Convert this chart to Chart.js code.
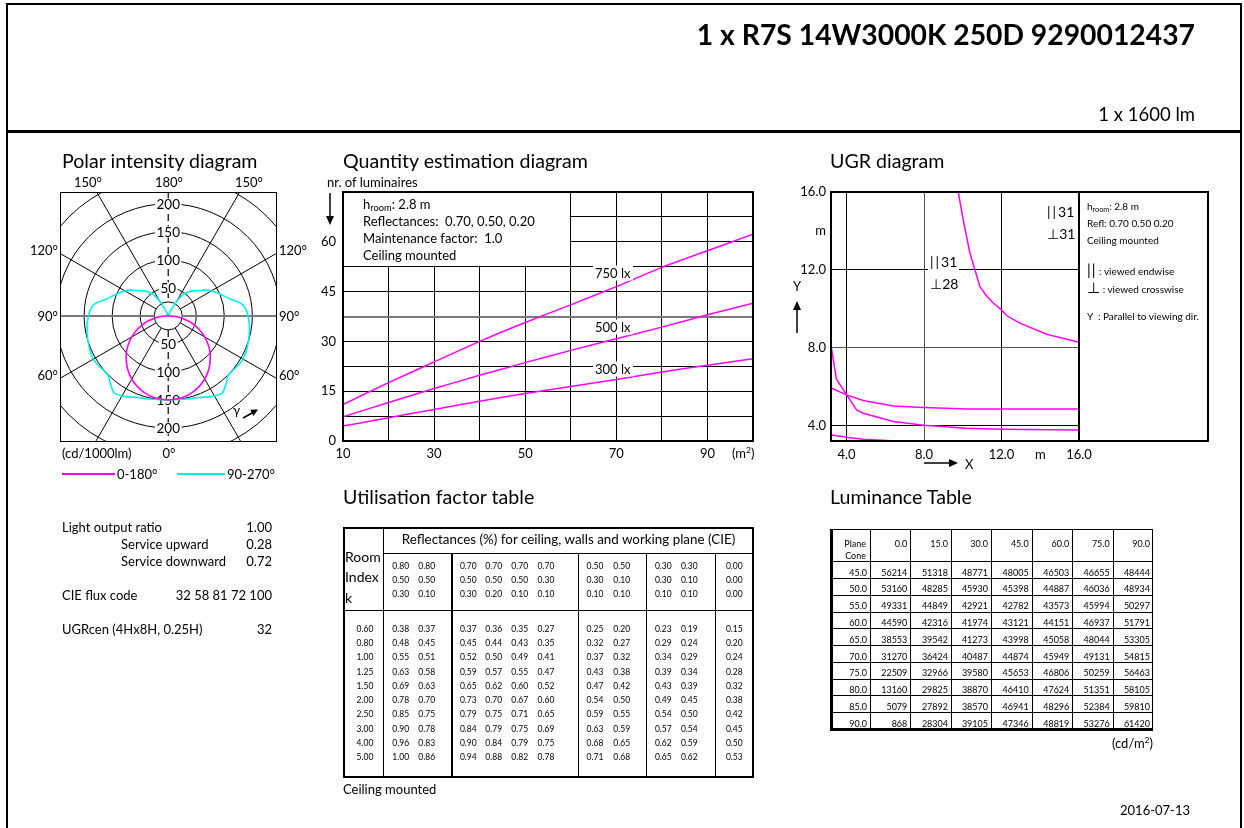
<!DOCTYPE html>
<html><head><meta charset="utf-8">
<script src="https://cdn.jsdelivr.net/npm/chart.js@4.4.1/dist/chart.umd.min.js"></script>
<style>
html,body{margin:0;padding:0}
body{width:1244px;height:828px;position:relative;overflow:hidden;background:#fff;font-family:Lato,"Open Sans",sans-serif;color:#000}
.t{position:absolute;white-space:nowrap;line-height:1;font-size:13px}
.ln{position:absolute;background:#000}
canvas{position:absolute}
sub{font-size:0.72em;vertical-align:-0.3em;line-height:0}
sup{font-size:0.65em;vertical-align:0.5em;line-height:0}
</style></head><body>
<div style="position:absolute;left:6px;top:3px;width:1236px;height:900px;border:2.5px solid #000;box-sizing:border-box"></div>
<div class="ln" style="left:6px;top:130px;width:1236px;height:2.5px"></div>
<canvas id="polar" width="217" height="250" style="left:60px;top:192px"></canvas>
<canvas id="qty" width="470" height="300" style="left:300px;top:170px"></canvas>
<canvas id="ugr" width="440" height="300" style="left:780px;top:170px"></canvas>
<div style="position:absolute;left:1078px;top:191px;width:131px;height:251px;border:2px solid #000;box-sizing:border-box"></div>
<div id="util" style="position:absolute;left:343px;top:527px;width:411px;height:251px;border:2.5px solid #000;box-sizing:border-box"></div>
<div id="lum" style="position:absolute;left:830px;top:529px;width:323px;height:202px;border:1.5px solid #000;border-left-width:3px;border-bottom-width:3px;box-sizing:border-box"></div>
<div class="ln" style="left:62px;top:473px;width:53px;height:2px;background:#ff00ff"></div>
<div class="ln" style="left:177px;top:473px;width:48px;height:2px;background:#00f0f0"></div>
<svg width="1244" height="828" style="position:absolute;left:0;top:0;pointer-events:none">
  <g stroke="#000" stroke-width="1.5" fill="#000">
    <line x1="330" y1="193" x2="330" y2="218"/><polygon points="326,216 334,216 330,225" stroke="none"/>
    <line x1="797" y1="333" x2="797" y2="308"/><polygon points="793,310 801,310 797,301" stroke="none"/>
    <line x1="924" y1="463" x2="951" y2="463"/><polygon points="949,459 949,467 958,463" stroke="none"/>
    <line x1="243" y1="418" x2="253" y2="412.5"/><polygon points="258,409.5 250.2,409.7 253.5,415.9" stroke="none"/>
  </g>
</svg>
<script>
// ---------------- DATA ----------------
const polarAngles = [0,5,10,15,20,25,30,35,40,45,50,55,60,65,70,75,80,85,90,95,100,105,110,115,120,125,130,135,140,145,150,155,160,165,170,175,180];
const intensityC0_180 = [150,149,148,145,141,136,130,123,115,106,97,86,75,63,51,39,26,13,2,0,0,0,0,0,0,0,0,0,0,0,0,0,0,0,0,0,0];
const intensityC90_270 = [150,150,151,153,155,160,165,168,160,151,151,153,154,153,151,149,147,145,142,139,131,115,105,97,89,80,70,63,56,47,30,8,3,1,0,0,0];
const polarRings = [25,50,100,150,200,250];
const polarRingLabels = [50,100,150,200];
const polarSpokes = [30,60,120,150];

const areaM2 = [10,20,30,40,50,60,70,80,90,100];
const luminaires750 = [11.0,17.6,23.8,30.0,35.7,41.0,46.5,52.3,57.3,62.3];
const luminaires500 = [7.3,11.6,15.8,19.8,23.6,27.3,30.8,34.3,38.0,41.5];
const luminaires300 = [4.5,7.0,9.5,12.0,14.3,16.4,18.5,20.8,22.8,24.8];
const quantityXTicks = [10,30,50,70,90];
const quantityYTicks = [0,15,30,45,60];

const ugrTicks = [4,8,12,14,16];
const ugrCurveAX = [9.77,9.99,10.37,10.63,10.88,11.18,11.57,12.0,12.26,12.95,14.33,16.0];
const ugrCurveAY = [16.0,14.75,12.86,12.0,11.15,10.72,10.29,9.94,9.65,9.26,8.69,8.28];
const ugrCurveBX = [3.23,3.48,4.52,4.86,6.41,8.0,10.2,12.0,16.0];
const ugrCurveBY = [7.94,6.38,4.80,4.63,4.20,4.01,3.86,3.81,3.77];
const ugrCurveCX = [3.23,4.0,4.86,6.41,8.0,10.2,16.0];
const ugrCurveCY = [5.91,5.57,5.28,5.00,4.92,4.85,4.85];
const ugrCurveDX = [3.23,4.0,4.86,6.07,7.1];
const ugrCurveDY = [3.51,3.39,3.29,3.22,3.15];

const utilRoomIndex = ['0.60','0.80','1.00','1.25','1.50','2.00','2.50','3.00','4.00','5.00'];
const utilCeiling = ['0.80','0.80','0.70','0.70','0.70','0.70','0.50','0.50','0.30','0.30','0.00'];
const utilWalls   = ['0.50','0.50','0.50','0.50','0.50','0.30','0.30','0.10','0.30','0.10','0.00'];
const utilPlane   = ['0.30','0.10','0.30','0.20','0.10','0.10','0.10','0.10','0.10','0.10','0.00'];
const utilValues = [
 ['0.38','0.37','0.37','0.36','0.35','0.27','0.25','0.20','0.23','0.19','0.15'],
 ['0.48','0.45','0.45','0.44','0.43','0.35','0.32','0.27','0.29','0.24','0.20'],
 ['0.55','0.51','0.52','0.50','0.49','0.41','0.37','0.32','0.34','0.29','0.24'],
 ['0.63','0.58','0.59','0.57','0.55','0.47','0.43','0.38','0.39','0.34','0.28'],
 ['0.69','0.63','0.65','0.62','0.60','0.52','0.47','0.42','0.43','0.39','0.32'],
 ['0.78','0.70','0.73','0.70','0.67','0.60','0.54','0.50','0.49','0.45','0.38'],
 ['0.85','0.75','0.79','0.75','0.71','0.65','0.59','0.55','0.54','0.50','0.42'],
 ['0.90','0.78','0.84','0.79','0.75','0.69','0.63','0.59','0.57','0.54','0.45'],
 ['0.96','0.83','0.90','0.84','0.79','0.75','0.68','0.65','0.62','0.59','0.50'],
 ['1.00','0.86','0.94','0.88','0.82','0.78','0.71','0.68','0.65','0.62','0.53']
];

const lumPlanes = ['0.0','15.0','30.0','45.0','60.0','75.0','90.0'];
const lumCones = ['45.0','50.0','55.0','60.0','65.0','70.0','75.0','80.0','85.0','90.0'];
const lumValues = [
 [56214,51318,48771,48005,46503,46655,48444],
 [53160,48285,45930,45398,44887,46036,48934],
 [49331,44849,42921,42782,43573,45994,50297],
 [44590,42316,41974,43121,44151,46937,51791],
 [38553,39542,41273,43998,45058,48044,53305],
 [31270,36424,40487,44874,45949,49131,54815],
 [22509,32966,39580,45653,46806,50259,56463],
 [13160,29825,38870,46410,47624,51351,58105],
 [5079,27892,38570,46941,48296,52384,59810],
 [868,28304,39105,47346,48819,53276,61420]
];

// ---------------- TEXT HELPERS ----------------
function label(txt, x, y, opt){
  opt = opt || {};
  const d = document.createElement('div');
  d.className = 't';
  d.innerHTML = txt;
  const al = opt.align || 'left';
  const tx = al === 'center' ? '-50%' : (al === 'right' ? '-100%' : '0');
  d.style.left = x + 'px';
  d.style.top = y + 'px';
  d.style.transform = 'translate(' + tx + ',-50%)';
  if (opt.size) d.style.fontSize = opt.size + 'px';
  if (opt.bold) d.style.fontWeight = 'bold';
  if (opt.bg) { d.style.background = '#fff'; d.style.padding = '1px 2px'; }
  if (opt.family) d.style.fontFamily = opt.family;
  document.body.appendChild(d);
  return d;
}
function hline(x, y, w, h){ const d=document.createElement('div'); d.className='ln'; d.style.left=x+'px'; d.style.top=y+'px'; d.style.width=w+'px'; d.style.height=(h||1)+'px'; document.body.appendChild(d); }
function vline(x, y, h, w){ const d=document.createElement('div'); d.className='ln'; d.style.left=x+'px'; d.style.top=y+'px'; d.style.height=h+'px'; d.style.width=(w||1)+'px'; document.body.appendChild(d); }

// header
label('1 x R7S 14W3000K 250D 9290012437', 1195, 34, {align:'right', size:28.3, bold:true});
label('1 x 1600 lm', 1195, 114, {align:'right', size:18.5});
label('2016-07-13', 1190, 810, {align:'right', size:13});

// section titles
label('Polar intensity diagram', 62, 161, {size:19.6});
label('Quantity estimation diagram', 343, 161, {size:19.6});
label('UGR diagram', 830, 161, {size:19.6});
label('Utilisation factor table', 343, 497, {size:19.6});
label('Luminance Table', 830, 497, {size:19.6});

// left info
label('Light output ratio', 62, 527); label('1.00', 272, 527, {align:'right'});
label('Service upward', 121, 544); label('0.28', 272, 544, {align:'right'});
label('Service downward', 121, 561); label('0.72', 272, 561, {align:'right'});
label('CIE flux code', 62, 595); label('32 58 81 72 100', 272, 595, {align:'right'});
label('UGRcen (4Hx8H, 0.25H)', 62, 629); label('32', 272, 629, {align:'right'});

// polar labels
label('150°', 88, 182, {align:'center'}); label('180°', 169, 182, {align:'center'}); label('150°', 249, 182, {align:'center'});
label('120°', 58, 250, {align:'right'}); label('90°', 58, 316, {align:'right'}); label('60°', 58, 375, {align:'right'});
label('120°', 279, 250); label('90°', 279, 316); label('60°', 279, 375);
label('(cd/1000lm)', 62, 453); label('0°', 169, 453, {align:'center'});
label('0-180°', 117, 474); label('90-270°', 227, 474);
label('γ', 233, 410, {size:13});

// quantity labels
label('nr. of luminaires', 327, 182);
label('h<sub>room</sub>: 2.8 m', 363, 204);
label('Reflectances:&nbsp; 0.70, 0.50, 0.20', 363, 221);
label('Maintenance factor:&nbsp; 1.0', 363, 238);
label('Ceiling mounted', 363, 255);
label('750 lx', 593, 273, {bg:true});
label('500 lx', 593, 327, {bg:true});
label('300 lx', 593, 369, {bg:true});
label('(m<sup>2</sup>)', 732, 453);

// ugr labels
label('Y', 797, 286, {align:'center'});
label('X', 965, 464);
label('<span style="letter-spacing:2px">||</span>31', 928, 262, {size:14, bg:true});
label('⊥28', 928, 284, {size:14, bg:true, family:'Lato, "DejaVu Sans"'});
label('<span style="letter-spacing:2px">||</span>31', 1047, 212, {size:14});
label('⊥31', 1047, 234, {size:14, family:'Lato, "DejaVu Sans"'});
label('h<sub>room</sub>: 2.8 m', 1087, 206, {size:10});
label('Refl: 0.70 0.50 0.20', 1087, 223, {size:10});
label('Ceiling mounted', 1087, 240, {size:10});
label('<span style="font-size:15px;letter-spacing:1px">||</span> : viewed endwise', 1087, 269, {size:10});
label('<span style="font-size:15px">⊥</span> : viewed crosswise', 1087, 287, {size:10, family:'Lato, "DejaVu Sans"'});
label('Y&nbsp; : Parallel to viewing dir.', 1087, 316, {size:10});

// utilisation table
vline(382.5, 527, 251, 1.5);
hline(383, 552.5, 371, 1.5);
hline(343, 609.5, 411, 1.5);
[451, 577.5, 645.5, 714.5].forEach(x => vline(x, 553, 225, 1.5));
label('Reflectances (%) for ceiling, walls and working plane (CIE)', 568.5, 540, {align:'center', size:13.4});
label('Room', 345, 557, {size:14}); label('Index', 345, 577, {size:14}); label('k', 345, 598, {size:14});
const utilColX = [400.7,426.7,468.3,493.7,519.7,546,595,621.7,663.3,689.3,734.3];
[utilCeiling, utilWalls, utilPlane].forEach((row, r) => row.forEach((v, c) => label(v, utilColX[c], 566 + r*14.2, {align:'center', size:8.5})));
utilRoomIndex.forEach((v, r) => label(v, 365, 629 + r*14.22, {align:'center', size:8.5}));
utilValues.forEach((row, r) => row.forEach((v, c) => label(v, utilColX[c], 629 + r*14.22, {align:'center', size:8.5})));
label('Ceiling mounted', 343, 789);

// luminance table
const lumColEdges = [830,870,910.3,951,991,1031.7,1072.3,1112.7,1153];
for (let i = 1; i < lumColEdges.length-1; i++) vline(lumColEdges[i], 529, 202, 1);
for (let k = 0; k < 10; k++) hline(830, 561.2 + k*16.78, 323, 1);
label('Plane', 866, 543, {align:'right', size:9}); label('Cone', 866, 555, {align:'right', size:9});
lumPlanes.forEach((p, c) => label(p, lumColEdges[c+2]-3, 543, {align:'right', size:9}));
lumCones.forEach((v, r) => label(v, 867, 571.7 + r*16.78, {align:'right', size:9}));
lumValues.forEach((row, r) => row.forEach((v, c) => label(String(v), lumColEdges[c+2]-3, 571.7 + r*16.78, {align:'right', size:9})));
label('(cd/m<sup>2</sup>)', 1153, 743, {align:'right', size:13});

// ---------------- CHARTS ----------------
Chart.defaults.font.family = 'Lato, "Open Sans", sans-serif';
Chart.defaults.font.size = 13;
Chart.defaults.color = '#000';

function boxBorder(id){
  return { id: id, afterDraw(chart){ const a = chart.chartArea, c = chart.ctx; c.save(); c.strokeStyle = '#000'; c.lineWidth = 2; c.strokeRect(a.left, a.top, a.right-a.left, a.bottom-a.top); c.restore(); } };
}

function polarCurve(angles, vals){
  const pts = [];
  for (let i = angles.length-1; i >= 0; i--) { const g = angles[i]*Math.PI/180; pts.push({x: -vals[i]*Math.sin(g), y: -vals[i]*Math.cos(g)}); }
  for (let i = 1; i < angles.length; i++) { const g = angles[i]*Math.PI/180; pts.push({x: vals[i]*Math.sin(g), y: -vals[i]*Math.cos(g)}); }
  return pts;
}

const polarGrid = {
  id: 'polarGrid',
  beforeDatasetsDraw(chart){
    const ctx = chart.ctx, a = chart.chartArea, xs = chart.scales.x, ys = chart.scales.y;
    const cx = xs.getPixelForValue(0), cy = ys.getPixelForValue(0);
    const k = Math.abs(xs.getPixelForValue(100) - cx) / 100;
    ctx.save();
    ctx.beginPath(); ctx.rect(a.left, a.top, a.right-a.left, a.bottom-a.top); ctx.clip();
    ctx.strokeStyle = '#000'; ctx.lineWidth = 1;
    polarRings.forEach(r => { ctx.beginPath(); ctx.arc(cx, cy, r*k, 0, 2*Math.PI); ctx.stroke(); });
    const r0 = polarRings[0]*k;
    polarSpokes.forEach(g => [1,-1].forEach(s => {
      const dx = s*Math.sin(g*Math.PI/180), dy = Math.cos(g*Math.PI/180);
      ctx.beginPath(); ctx.moveTo(cx+dx*r0, cy+dy*r0); ctx.lineTo(cx+dx*600, cy+dy*600); ctx.stroke();
    }));
    ctx.strokeStyle = '#7a7a7a'; ctx.lineWidth = 2;
    ctx.beginPath(); ctx.moveTo(a.left, cy); ctx.lineTo(cx-r0, cy); ctx.moveTo(cx+r0, cy); ctx.lineTo(a.right, cy); ctx.stroke();
    ctx.strokeStyle = '#000'; ctx.lineWidth = 1.2; ctx.setLineDash([7,4]);
    ctx.beginPath(); ctx.moveTo(cx, a.top); ctx.lineTo(cx, cy-r0); ctx.moveTo(cx, cy+r0); ctx.lineTo(cx, a.bottom); ctx.stroke();
    ctx.setLineDash([]);
    ctx.font = '13.5px Lato, "Open Sans", sans-serif'; ctx.textAlign = 'center'; ctx.textBaseline = 'middle';
    polarRingLabels.forEach(v => [1,-1].forEach(s => {
      const py = cy + s*v*k, txt = String(v), w = ctx.measureText(txt).width + 3;
      ctx.fillStyle = '#fff'; ctx.fillRect(cx - w/2, py - 5.5, w, 11);
      ctx.fillStyle = '#000'; ctx.fillText(txt, cx, py + 0.5);
    }));
    ctx.restore();
  }
};

new Chart(document.getElementById('polar'), {
  type: 'scatter',
  data: { datasets: [
    { data: polarCurve(polarAngles, intensityC0_180), showLine: true, borderColor: '#ff00ff', borderWidth: 1.6, pointRadius: 0, tension: 0.2 },
    { data: polarCurve(polarAngles, intensityC90_270), showLine: true, borderColor: '#00f0f0', borderWidth: 1.6, pointRadius: 0, tension: 0.2 }
  ]},
  options: {
    responsive: false, animation: false, events: [],
    plugins: { legend: { display: false }, tooltip: { enabled: false } },
    layout: { padding: 0 },
    scales: { x: { type: 'linear', min: -193, max: 194, display: false }, y: { type: 'linear', min: -225, max: 221, display: false } }
  },
  plugins: [polarGrid, boxBorder('polarBox')]
});

const qtyTextBox = {
  id: 'qtyTextBox',
  beforeDatasetsDraw(chart){
    const ctx = chart.ctx, xs = chart.scales.x, ys = chart.scales.y;
    const x1 = xs.getPixelForValue(10) + 1, x2 = xs.getPixelForValue(60) - 1;
    const y1 = ys.getPixelForValue(75) + 1, y2 = ys.getPixelForValue(52.5) - 1;
    ctx.save(); ctx.fillStyle = '#fff'; ctx.fillRect(x1, y1, x2-x1, y2-y1); ctx.restore();
  }
};

new Chart(document.getElementById('qty'), {
  type: 'scatter',
  data: { datasets: [luminaires750, luminaires500, luminaires300].map(arr => ({
    data: areaM2.map((a, i) => ({x: a, y: arr[i]})), showLine: true, borderColor: '#ff00ff', borderWidth: 1.5, pointRadius: 0, tension: 0.2
  }))},
  options: {
    responsive: false, animation: false, events: [],
    plugins: { legend: { display: false }, tooltip: { enabled: false } },
    layout: { padding: { top: 22, right: 17, left: 0, bottom: 0 } },
    scales: {
      x: { type: 'linear', min: 10, max: 100, afterFit(s){ s.height = 29; },
           ticks: { stepSize: 10, autoSkip: false, maxRotation: 0, padding: 5, callback: v => quantityXTicks.includes(v) ? String(v) : '' },
           grid: { color: '#000', lineWidth: 1, drawTicks: false }, border: { display: false } },
      y: { type: 'linear', min: 0, max: 75, afterFit(s){ s.width = 43; },
           ticks: { stepSize: 7.5, autoSkip: false, padding: 7, callback: v => quantityYTicks.includes(v) ? String(v) : '' },
           grid: { color: c => (c.tick && c.tick.value === 37.5) ? '#7a7a7a' : '#000', lineWidth: c => (c.tick && c.tick.value === 37.5) ? 2 : 1, drawTicks: false },
           border: { display: false } }
    }
  },
  plugins: [qtyTextBox, boxBorder('qtyBox')]
});

const ugrSeries = [[ugrCurveAX, ugrCurveAY], [ugrCurveBX, ugrCurveBY], [ugrCurveCX, ugrCurveCY], [ugrCurveDX, ugrCurveDY]];
new Chart(document.getElementById('ugr'), {
  type: 'scatter',
  data: { datasets: ugrSeries.map(s => ({
    data: s[0].map((x, i) => ({x: x, y: s[1][i]})), showLine: true, borderColor: '#ff00ff', borderWidth: 1.5, pointRadius: 0, tension: 0
  }))},
  options: {
    responsive: false, animation: false, events: [],
    plugins: { legend: { display: false }, tooltip: { enabled: false } },
    layout: { padding: { top: 22, right: 141, left: 0, bottom: 0 } },
    scales: {
      x: { type: 'linear', min: 3.2, max: 16, afterFit(s){ s.height = 29; },
           afterBuildTicks(s){ s.ticks = ugrTicks.map(v => ({value: v})); },
           ticks: { autoSkip: false, maxRotation: 0, padding: 6, callback: v => v === 14 ? 'm' : v.toFixed(1) },
           grid: { color: c => (c.tick && c.tick.value === 14) ? 'rgba(0,0,0,0)' : (c.tick && c.tick.value === 8 ? '#555' : '#000'), lineWidth: 1, drawTicks: false },
           border: { display: false } },
      y: { type: 'linear', min: 3.2, max: 16, afterFit(s){ s.width = 51; },
           afterBuildTicks(s){ s.ticks = ugrTicks.map(v => ({value: v})); },
           ticks: { autoSkip: false, padding: 5, callback: v => v === 14 ? 'm' : v.toFixed(1) },
           grid: { color: c => (c.tick && c.tick.value === 14) ? 'rgba(0,0,0,0)' : (c.tick && c.tick.value === 8 ? '#555' : '#000'), lineWidth: 1, drawTicks: false },
           border: { display: false } }
    }
  },
  plugins: [boxBorder('ugrBox')]
});
</script>
</body></html>
